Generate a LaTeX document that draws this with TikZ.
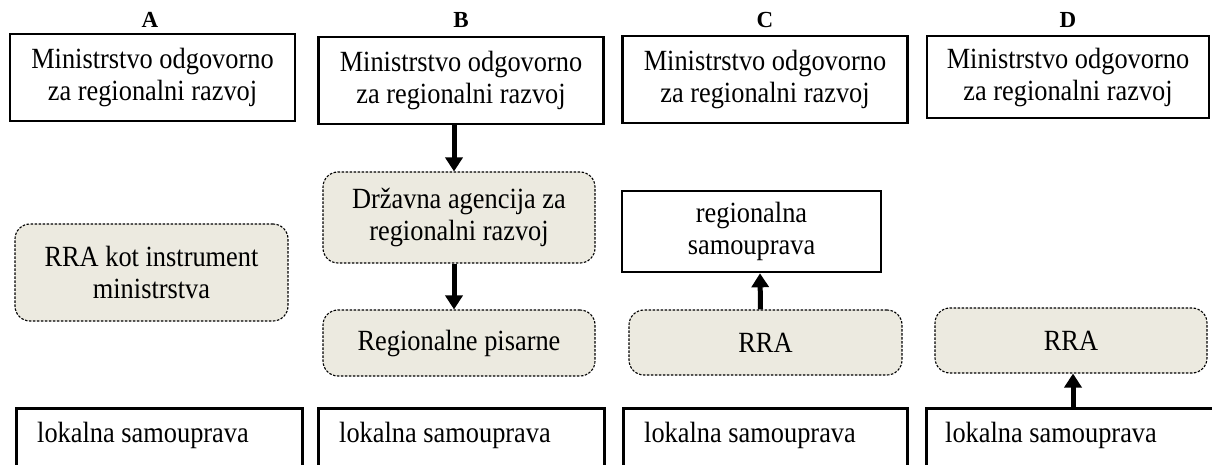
\documentclass[tikz,border=0pt]{standalone}
\usepackage{fontspec}
\setmainfont{Liberation Serif}[FakeStretch=0.9]
\newfontfamily\lblfont{Liberation Serif}
\usetikzlibrary{arrows.meta}

\begin{document}
\begin{tikzpicture}[x=1pt,y=-1pt,
  txt/.style={font=\fontsize{29.3}{32}\selectfont,align=center},
  ministry/.style={txt,draw,line width=2.6pt,minimum width=285pt,minimum height=87pt,inner sep=0pt},
  regbox/.style={txt,draw,line width=2.6pt,minimum width=259pt,minimum height=81pt,inner sep=0pt},
  agency/.style={txt,draw,line width=1.1pt,dash pattern=on 2.5pt off 1.5pt,fill=agencyfill,
    rounded corners=15pt,minimum width=272pt,inner sep=0pt},
  lokbox/.style={draw,line width=2.6pt,anchor=north west,minimum width=286pt,minimum height=90pt},
  loktext/.style={font=\fontsize{29.3}{32}\selectfont,anchor=base west,inner sep=0pt},
  lbl/.style={font=\lblfont\fontsize{23}{25}\selectfont\bfseries},
  flow/.style={line width=5pt,-{Triangle[length=14pt,width=17pt]}}]
\definecolor{agencyfill}{RGB}{236,234,224}
\useasboundingbox (0,0) rectangle (1212,465);
\clip (0,0) rectangle (1212,465);

\node[lbl] (lA) at (150,20) {A};
\node[lbl] (lB) at (461,20) {B};
\node[lbl] (lC) at (765,20) {C};
\node[lbl] (lD) at (1068,20) {D};

\node[ministry] (minA) at (152.5,77.5) {Ministrstvo odgovorno\\za regionalni razvoj};
\node[ministry] (minB) at (461,80.5) {Ministrstvo odgovorno\\za regionalni razvoj};
\node[ministry] (minC) at (765,79.5) {Ministrstvo odgovorno\\za regionalni razvoj};
\node[ministry,minimum width=282pt,minimum height=82pt] (minD) at (1068,77) {Ministrstvo odgovorno\\za regionalni razvoj};

\node[agency,minimum width=273pt,minimum height=97pt] (rraA) at (151.5,272.5) {RRA kot instrument\\ministrstva};
\node[agency,minimum height=91pt] (dar) at (459,217.5) {Dr\v{z}avna agencija za\\regionalni razvoj};
\node[agency,minimum height=66pt] (pis) at (459,343) {Regionalne pisarne};
\node[regbox] (regC) at (751.5,231.5) {regionalna\\samouprava};
\node[agency,minimum width=273pt,minimum height=65pt] (rraC) at (765.5,342.5) {RRA};
\node[agency,minimum height=65pt] (rraD) at (1071,340.5) {RRA};

\node[lokbox] (lokA) at (15,407) {};
\node[lokbox] (lokB) at (317,407) {};
\node[lokbox,minimum width=284pt] (lokC) at (622,407) {};
\node[lokbox,minimum width=290pt] (lokD) at (925,407) {};
\node[loktext] (lokAt) at ([shift={(22pt,-35pt)}]lokA.north west) {lokalna samouprava};
\node[loktext] (lokBt) at ([shift={(22pt,-35pt)}]lokB.north west) {lokalna samouprava};
\node[loktext] (lokCt) at ([shift={(22pt,-35pt)}]lokC.north west) {lokalna samouprava};
\node[loktext] (lokDt) at ([shift={(20pt,-35pt)}]lokD.north west) {lokalna samouprava};

\draw[flow] ([xshift=-7pt]minB.south) -- ([xshift=-5pt]dar.north);
\draw[flow] ([xshift=-5pt]dar.south) -- ([xshift=-5pt]pis.north);
\draw[flow] ([xshift=-5pt]rraC.north) -- ([xshift=8.5pt]regC.south);
\draw[flow] ([xshift=1.7pt]lokD.north) -- ([xshift=2pt]rraD.south);
\end{tikzpicture}
\end{document}
